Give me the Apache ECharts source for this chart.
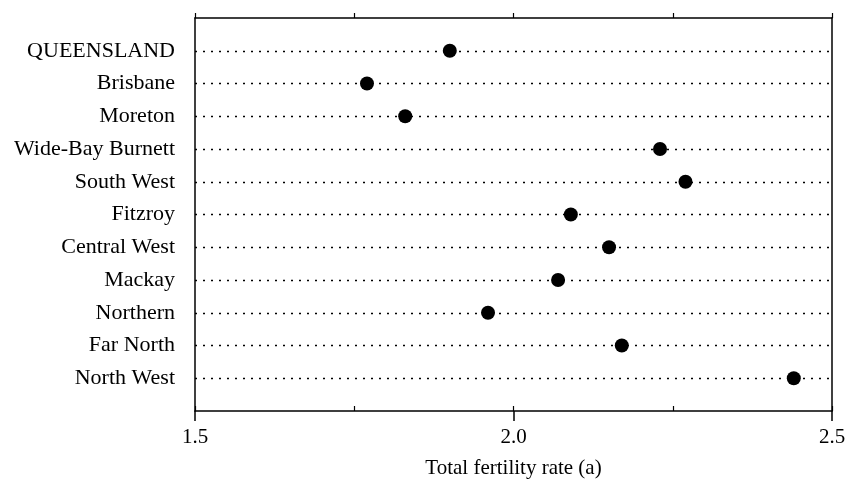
<!DOCTYPE html>
<html><head><meta charset="utf-8">
<script src="https://cdn.jsdelivr.net/npm/echarts@6/dist/echarts.min.js"></script>
<style>html,body{margin:0;padding:0;background:#fff}#c{width:853px;height:484px}</style>
</head><body><div id="c"></div>
<script>
const regions = ['QUEENSLAND','Brisbane','Moreton','Wide-Bay Burnett','South West','Fitzroy','Central West','Mackay','Northern','Far North','North West'];
const fertility = [1.90,1.77,1.83,2.23,2.27,2.09,2.15,2.07,1.96,2.17,2.44];
const xTicks = [1.5,2.0,2.5];

const cats = [''].concat(regions).concat(['']);
const pts = regions.map((r,i)=>[fertility[i], r]);
const font = 'Liberation Serif';
const chart = echarts.init(document.getElementById('c'));
chart.setOption({
  animation:false,
  backgroundColor:'#fff',
  grid:{left:195,right:21,top:18,bottom:72},
  xAxis:[
    {type:'value',min:xTicks[0],max:xTicks[xTicks.length-1],interval:0.5,position:'bottom',
     name:'Total fertility rate (a)',nameLocation:'middle',nameGap:47,
     nameTextStyle:{fontFamily:font,fontSize:21,color:'#000'},
     axisLine:{show:true,lineStyle:{color:'#000',width:1.5}},
     axisTick:{show:true,inside:false,length:10,lineStyle:{color:'#000',width:1.5}},
     axisLabel:{fontFamily:font,fontSize:21,color:'#000',margin:16,
       formatter:function(v){return v.toFixed(1);}},
     splitLine:{show:false}},
    {type:'value',min:1.5,max:2.5,interval:0.25,position:'bottom',
     axisLine:{show:false},axisTick:{show:true,inside:true,length:5,lineStyle:{color:'#000',width:1.2}},
     axisLabel:{show:false},splitLine:{show:false}},
    {type:'value',min:1.5,max:2.5,interval:0.25,position:'top',
     axisLine:{show:true,lineStyle:{color:'#000',width:1.5}},
     axisTick:{show:true,inside:false,length:5,lineStyle:{color:'#000',width:1.2}},
     axisLabel:{show:false},splitLine:{show:false}}
  ],
  yAxis:[
    {type:'category',data:cats,inverse:true,boundaryGap:false,position:'left',
     axisLine:{show:true,lineStyle:{color:'#000',width:1.5}},
     axisTick:{show:false},
     axisLabel:{fontFamily:font,fontSize:22,color:'#000',margin:20},
     splitLine:{show:true,interval:function(i){return i>0 && i<cats.length-1;},
       lineStyle:{type:[2,6],color:'#000',width:1.3}}},
    {type:'category',data:cats,inverse:true,boundaryGap:false,position:'right',
     axisLine:{show:true,lineStyle:{color:'#000',width:1.5}},
     axisTick:{show:false},axisLabel:{show:false},splitLine:{show:false}}
  ],
  series:[{type:'scatter',xAxisIndex:0,yAxisIndex:0,data:pts,symbol:'circle',symbolSize:14,
    itemStyle:{color:'#000',opacity:1}}]
});
</script></body></html>
